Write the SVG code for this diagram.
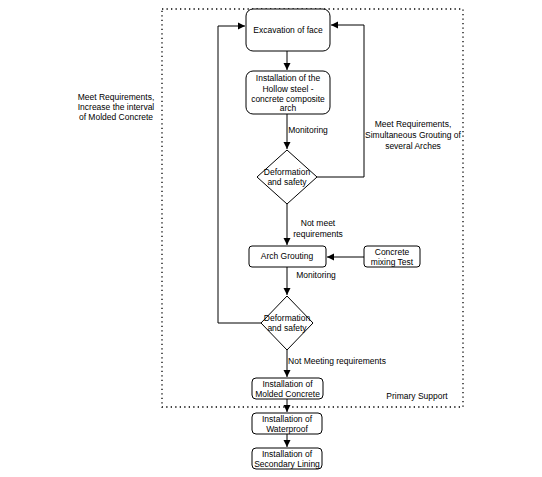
<svg xmlns="http://www.w3.org/2000/svg" width="542" height="477" viewBox="0 0 542 477">
<style>
.n{fill:#fff;stroke:#000;stroke-width:1}
.t{font-family:"Liberation Sans",Arial,sans-serif;font-size:8.5px;fill:#000;text-anchor:middle}
.l{font-family:"Liberation Sans",Arial,sans-serif;font-size:8.5px;fill:#000;text-anchor:middle}
.c{fill:none;stroke:#000;stroke-width:1}
</style>
<defs>
<marker id="a" markerWidth="8" markerHeight="8" refX="7" refY="4" orient="auto" markerUnits="userSpaceOnUse">
<path d="M0,0.5 L7,4 L0,7.5 Z" fill="#000"/>
</marker>
</defs>
<rect width="542" height="477" fill="#fff"/>
<g id="primary-support">
<rect x="162" y="9" width="301" height="398" fill="none" stroke="#000" stroke-width="1.3" stroke-dasharray="1.3,3.2"/>
<text class="l" x="417" y="399">Primary Support</text>
</g>
<g id="connectors">
<path class="c" d="M287,51 V70" marker-end="url(#a)"/>
<path class="c" d="M287,114 V149" marker-end="url(#a)"/>
<path class="c" d="M317,177 H364 V25 H331" marker-end="url(#a)"/>
<path class="c" d="M287,204 V245" marker-end="url(#a)"/>
<path class="c" d="M364,257 H327" marker-end="url(#a)"/>
<path class="c" d="M287,267 V295" marker-end="url(#a)"/>
<path class="c" d="M261,323 H218 V26 H245" marker-end="url(#a)"/>
<path class="c" d="M287,350 V377" marker-end="url(#a)"/>
<path class="c" d="M287,399 V412" marker-end="url(#a)"/>
<path class="c" d="M287,434 V447" marker-end="url(#a)"/>
<text class="l" x="308" y="133">Monitoring</text>
<text class="l" x="413" y="127">Meet Requirements,</text>
<text class="l" x="413" y="138">Simultaneous Grouting of</text>
<text class="l" x="413" y="149">several Arches</text>
<text class="l" x="116" y="100">Meet Requirements,</text>
<text class="l" x="116" y="110">Increase the interval</text>
<text class="l" x="116" y="120">of Molded Concrete</text>
<text class="l" x="318" y="226">Not meet</text>
<text class="l" x="318" y="237">requirements</text>
<text class="l" x="316" y="278">Monitoring</text>
<text class="l" x="337" y="364">Not Meeting requirements</text>
</g>
<g id="excavation">
<rect class="n" x="246" y="9" width="84" height="42" rx="7"/>
<text class="t" x="288" y="33">Excavation of face</text>
</g>
<g id="arch-install">
<rect class="n" x="246" y="71" width="84" height="43" rx="7"/>
<text class="t" x="288" y="81">Installation of the</text>
<text class="t" x="288" y="91.5">Hollow steel -</text>
<text class="t" x="288" y="102">concrete composite</text>
<text class="t" x="288" y="111">arch</text>
</g>
<g id="diamond1">
<path class="n" d="M287,150 L317,177 L287,204 L257,177 Z" stroke-linejoin="round"/>
<text class="t" x="287" y="175">Deformation</text>
<text class="t" x="287" y="185">and safety</text>
</g>
<g id="arch-grouting">
<rect class="n" x="249" y="246" width="77" height="21" rx="3"/>
<text class="t" x="287" y="259">Arch Grouting</text>
</g>
<g id="concrete-test">
<rect class="n" x="364" y="246" width="56" height="21" rx="3"/>
<text class="t" x="392" y="255">Concrete</text>
<text class="t" x="392" y="265">mixing Test</text>
</g>
<g id="diamond2">
<path class="n" d="M287,296 L313,323 L287,350 L261,323 Z" stroke-linejoin="round"/>
<text class="t" x="287" y="321">Deformation</text>
<text class="t" x="287" y="331">and safety</text>
</g>
<g id="molded">
<rect class="n" x="252" y="378" width="71" height="21" rx="4"/>
<text class="t" x="287.5" y="387">Installation of</text>
<text class="t" x="287.5" y="397">Molded Concrete</text>
</g>
<g id="waterproof">
<rect class="n" x="252" y="413" width="70" height="21" rx="4"/>
<text class="t" x="287" y="422">Installation of</text>
<text class="t" x="287" y="432">Waterproof</text>
</g>
<g id="lining">
<rect class="n" x="252" y="448" width="70" height="21" rx="4"/>
<text class="t" x="287" y="457">Installation of</text>
<text class="t" x="287" y="467">Secondary Lining</text>
</g>
</svg>
